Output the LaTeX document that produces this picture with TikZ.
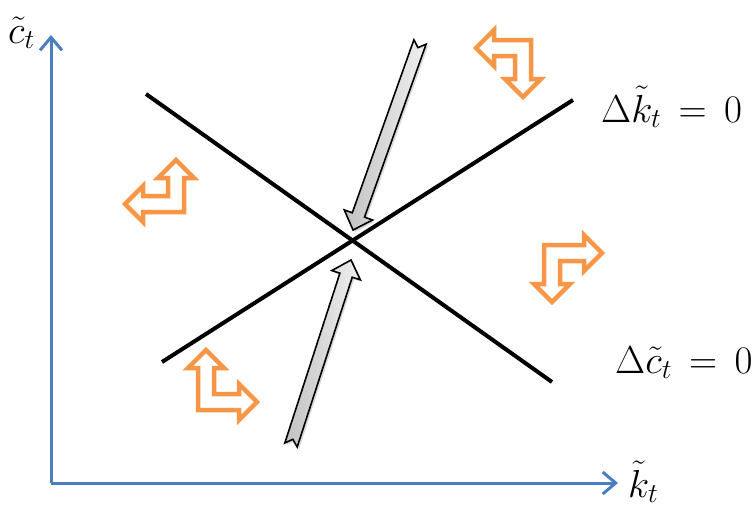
\RequirePackage{fix-cm}
\documentclass[tikz,border=0pt]{standalone}
\usetikzlibrary{arrows.meta,shadows,calc}
\definecolor{axisblue}{RGB}{74,126,193}
\definecolor{orng}{RGB}{247,150,70}
\tikzset{
  axisline/.style={draw=axisblue, line width=3pt, -{Straight Barb[length=13pt,width=22pt]}},
  locus/.style={draw=black, line width=4pt},
  orangearrow/.style={draw=orng, line width=4.5pt, fill=white, line join=miter},
  grayarrow/.style={draw=black, line width=1.6pt, left color=black!24, right color=black!6,
    drop shadow={shadow xshift=2pt, shadow yshift=-2pt, opacity=0.3}},
  lbl/.style={inner sep=0pt, anchor=base west, font=\fontsize{39}{46}\selectfont}
}
\newcommand\bentarr[4]{%
  \begin{scope}[shift={(#1)},#2]
    \draw[orangearrow] (-8,-8) -- (#3-18,-8) -- (#3-18,-18) -- (#3,0) -- (#3-18,18) -- (#3-18,8)
      -- (8,8) -- (8,#4-18) -- (18,#4-18) -- (0,#4) -- (-18,#4-18) -- (-8,#4-18) -- cycle;
  \end{scope}}
\newcommand\grayarr[3]{%
  \path[grayarrow, shift={(#1)}, rotate=#2] (0,-6.5) -- (#3-16,-6.5) -- (#3-16,-15) -- (#3,0)
    -- (#3-16,15) -- (#3-16,6.5) -- (0,6.5) -- (6,0) -- cycle;}
\begin{document}
\begin{tikzpicture}[x=1pt,y=-1pt]
  \useasboundingbox (0,0) rectangle (756,514);
  % axes
  \coordinate (O) at (51,483);
  \coordinate (ytop) at (51,35);
  \coordinate (xend) at (618,483);
  \draw[axisline] (O) -- (ytop);
  \draw[axisline] (O) -- (xend);
  % loci
  \coordinate (k1) at (162,362);
  \coordinate (k2) at (573,100);
  \coordinate (c1) at (146,94);
  \coordinate (c2) at (552,382);
  \draw[locus] (k1) -- (k2);
  \draw[locus] (c1) -- (c2);
  % labels
  \node[lbl] (lc) at (8,43) {$\tilde{c}_t$};
  \node[lbl] (lk) at (628,497) {$\tilde{k}_t$};
  \node[lbl] (ldk) at (601,122) {$\Delta\tilde{k}_t\,=\,0$};
  \node[lbl] (ldc) at (615,373) {$\Delta\tilde{c}_t\,=\,0$};
  % saddle path arrows
  \grayarr{291,445}{72.03}{194.5}
  \grayarr{420,42}{250.4}{199.6}
  % direction arrows
  \bentarr{523,48}{xscale=-1}{47}{49}
  \bentarr{176,204}{xscale=-1,yscale=-1}{51}{44}
  \bentarr{552,253}{}{50}{49}
  \bentarr{206,402}{yscale=-1}{51}{52}
\end{tikzpicture}
\end{document}
